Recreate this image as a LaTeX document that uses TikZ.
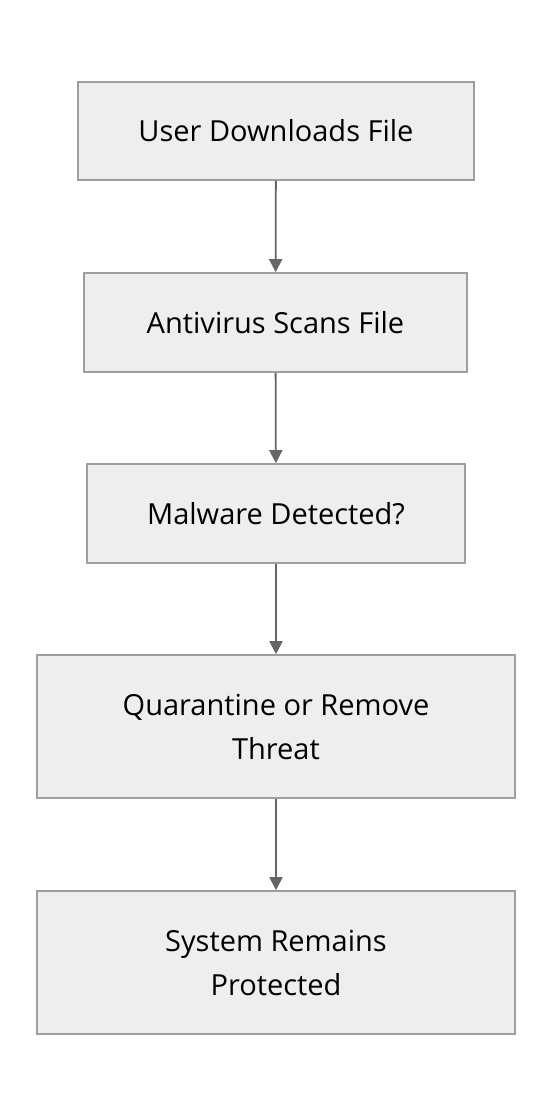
\documentclass[tikz,border=0pt]{standalone}
\usepackage{fontspec}
\setmainfont{Open Sans}
\usetikzlibrary{arrows.meta}
\definecolor{boxfill}{HTML}{EEEEEE}
\definecolor{boxline}{HTML}{9E9E9E}
\definecolor{arrowcol}{HTML}{666666}
\begin{document}
\begin{tikzpicture}[x=1pt,y=-1pt,
  box/.style={draw=boxline, fill=boxfill, line width=1.6pt, inner sep=0pt, align=center,
    font=\fontsize{29}{44}\selectfont},
  conn/.style={draw=arrowcol, line width=1.8pt, -{Triangle[length=13pt,width=13pt]}}]
\useasboundingbox (0,0) rectangle (552,1116);
\node[box, minimum width=396pt, minimum height=98pt] (a) at (276,131) {User Downloads File};
\node[box, minimum width=383pt, minimum height=99pt] (b) at (275.5,322.5) {Antivirus Scans File};
\node[box, minimum width=378pt, minimum height=99pt] (c) at (276,513.5) {Malware Detected?};
\node[box, minimum width=478pt, minimum height=143pt] (d) at (276,726.5) {Quarantine or Remove\\Threat};
\node[box, minimum width=478pt, minimum height=143pt] (e) at (276,962.5) {System Remains\\Protected};
\draw[conn] (a) -- (b);
\draw[conn] (b) -- (c);
\draw[conn] (c) -- (d);
\draw[conn] (d) -- (e);
\end{tikzpicture}
\end{document}
